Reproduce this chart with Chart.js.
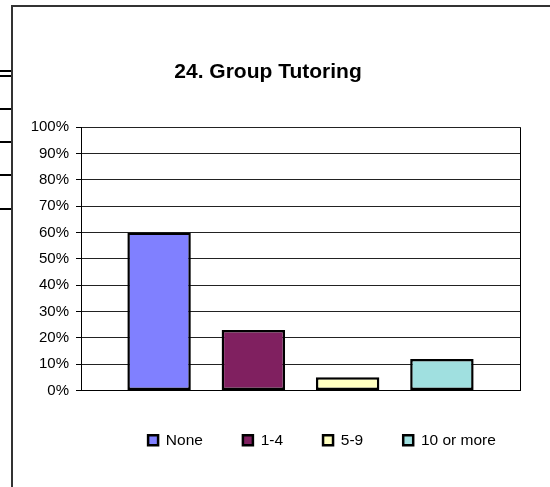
<!DOCTYPE html>
<html>
<head>
<meta charset="utf-8">
<script src="https://cdn.jsdelivr.net/npm/chart.js@4/dist/chart.umd.min.js"></script>
<style>
  html, body { margin: 0; padding: 0; background: #fff; overflow: hidden; }
  #wrap { position: relative; width: 550px; height: 487px; }
  .frame { position: absolute; left: 11px; top: 5px; width: 600px; height: 600px;
           border-left: 2px solid #333; border-top: 2px solid #333; }
  .stub { position: absolute; left: 0; width: 11px; height: 2px; background: #000; }
  canvas { position: absolute; left: 0; top: 0; }
</style>
</head>
<body>
<div id="wrap">
  <div class="frame"></div>
  <div class="stub" style="top:70px"></div>
  <div class="stub" style="top:75px"></div>
  <div class="stub" style="top:108px"></div>
  <div class="stub" style="top:141px"></div>
  <div class="stub" style="top:174px"></div>
  <div class="stub" style="top:208px"></div>
  <canvas id="chart" width="550" height="487"></canvas>
</div>
<script>
const chartTitle = '24. Group Tutoring';
const categories = ['None', '1-4', '5-9', '10 or more'];
const values = [60, 23, 5, 12];
const colors = ['#8080FF', '#802060', '#FFFFC0', '#A0E0E0'];

Chart.defaults.font.family = '"Liberation Sans", Arial, sans-serif';
Chart.defaults.color = '#000';

// nudge title and legend, like the original Excel layout
const shiftBoxes = {
  id: 'shiftBoxes',
  afterLayout(chart) {
    chart.titleBlock.left += 8;
    chart.titleBlock.right += 8;
    chart.legend.left += 62;
    chart.legend.right += 62;
    chart.legend.top += 2;
    chart.legend.bottom += 2;
  }
};

// right-hand edge of the plot area
const plotFrame = {
  id: 'plotFrame',
  afterDraw(chart) {
    const {ctx, chartArea} = chart;
    const x = Math.round(chartArea.right) + 0.5;
    ctx.save();
    ctx.strokeStyle = '#000';
    ctx.lineWidth = 1;
    ctx.beginPath();
    ctx.moveTo(x, chartArea.top);
    ctx.lineTo(x, chartArea.bottom);
    ctx.stroke();
    ctx.restore();
  }
};

new Chart(document.getElementById('chart'), {
  type: 'bar',
  data: {
    labels: [''],
    datasets: categories.map((c, i) => ({
      label: c,
      data: [values[i]],
      backgroundColor: colors[i],
      borderColor: '#000',
      borderWidth: 2.5,
      borderSkipped: false,
      categoryPercentage: 0.859,
      barPercentage: 0.673
    }))
  },
  options: {
    responsive: false,
    animation: false,
    layout: { padding: { left: 0, right: 30, top: 0, bottom: 31 } },
    plugins: {
      title: {
        display: true,
        text: chartTitle,
        font: { size: 21, weight: 'bold' },
        color: '#000',
        padding: { top: 60, bottom: 42 }
      },
      legend: {
        position: 'bottom',
        labels: {
          boxWidth: 10,
          boxHeight: 10,
          padding: 40,
          font: { size: 15.5 },
          color: '#000'
        }
      },
      tooltip: { enabled: false }
    },
    scales: {
      x: {
        grid: { display: false, drawTicks: false },
        ticks: { display: false },
        border: { display: true, color: '#000', width: 1 }
      },
      y: {
        min: 0,
        max: 100,
        ticks: {
          stepSize: 10,
          padding: 7,
          font: { size: 15 },
          color: '#000',
          callback: v => v + '%'
        },
        grid: { color: '#222', lineWidth: 1, tickLength: 5, tickColor: '#000' },
        border: { display: true, color: '#000', width: 1 },
        afterFit(scale) { scale.width = 81; }
      }
    }
  },
  plugins: [shiftBoxes, plotFrame]
});
</script>
</body>
</html>
